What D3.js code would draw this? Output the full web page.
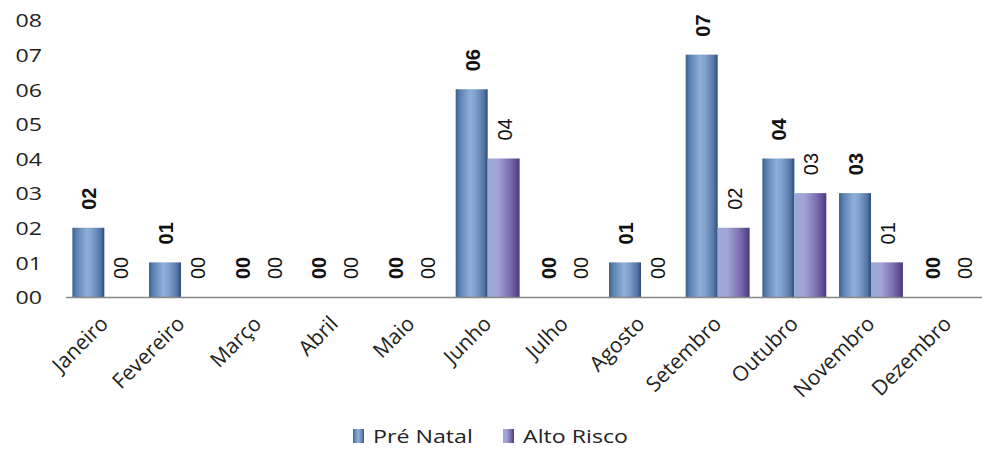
<!DOCTYPE html>
<html>
<head>
<meta charset="utf-8">
<script src="https://cdn.jsdelivr.net/npm/d3@7"></script>
<style>
  html, body { margin: 0; padding: 0; background: #fff; }
  svg { display: block; }
</style>
</head>
<body>
<svg id="chart" width="982" height="453"></svg>
<script>
const months = ["Janeiro","Fevereiro","Março","Abril","Maio","Junho","Julho","Agosto","Setembro","Outubro","Novembro","Dezembro"];
const seriesNames = ["Pré Natal","Alto Risco"];
const preNatal = [2,1,0,0,0,6,0,1,7,4,3,0];
const altoRisco = [0,0,0,0,0,4,0,0,2,3,1,0];
const yTicks = [0,1,2,3,4,5,6,7,8];

const svg = d3.select("#chart");
const W = 982, H = 453;
const SX = 1.22; // horizontal text stretch seen in the reference
const margin = {left: 66, right: -4, top: 20, bottom: 156};
const x0 = d3.scaleBand().domain(months).range([margin.left, W - margin.right]).paddingInner(0.166).paddingOuter(0.083);
const x1 = d3.scaleBand().domain(seriesNames).range([0, x0.bandwidth()]).padding(0);
const y = d3.scaleLinear().domain([0, 8]).range([H - margin.bottom, margin.top]);

const defs = svg.append("defs");
const g1 = defs.append("linearGradient").attr("id","gPre").attr("x1","0").attr("x2","1").attr("y1","0").attr("y2","0");
[[0,"#3b5e8e"],[0.12,"#5a7fb0"],[0.45,"#8fafd8"],[0.6,"#83a3cf"],[0.88,"#5576a6"],[1,"#2f4b74"]].forEach(([o,c])=>g1.append("stop").attr("offset",o).attr("stop-color",c));
const g2 = defs.append("linearGradient").attr("id","gAlto").attr("x1","0").attr("x2","1").attr("y1","0").attr("y2","0");
[[0,"#9aa8d6"],[0.3,"#a2a6d6"],[0.7,"#7a6daf"],[0.9,"#5b4a92"],[1,"#4a3a7c"]].forEach(([o,c])=>g2.append("stop").attr("offset",o).attr("stop-color",c));

const fills = {"Pré Natal":"url(#gPre)", "Alto Risco":"url(#gAlto)"};
const data = months.map((m,i)=>({month:m, vals:[{s:"Pré Natal", v:preNatal[i]},{s:"Alto Risco", v:altoRisco[i]}]}));

// y axis
const yAxis = d3.axisLeft(y).tickValues(yTicks).tickFormat(d=>d3.format("02d")(d)).tickSize(0).tickPadding(0);
const ya = svg.append("g").attr("transform",`translate(42,0)`).call(yAxis);
ya.select(".domain").remove();
ya.selectAll("text").attr("x",0).attr("font-family","'Open Sans', sans-serif").attr("font-size",19).attr("fill","#222").attr("dy","0.36em")
  .attr("transform",`scale(${SX},1)`);

// bars
const groups = svg.append("g").selectAll("g").data(data).join("g").attr("transform",d=>`translate(${x0(d.month)},0)`);
groups.selectAll("rect").data(d=>d.vals.filter(e=>e.v>0)).join("rect")
  .attr("x",d=>x1(d.s)).attr("width",x1.bandwidth())
  .attr("y",d=>y(d.v)).attr("height",d=>y(0)-y(d.v))
  .attr("fill",d=>fills[d.s]);

// value labels
groups.selectAll("text.val").data(d=>d.vals).join("text").attr("class","val")
  .attr("transform",d=>`translate(${x1(d.s)+x1.bandwidth()/2+8},${y(d.v)-18}) rotate(-90)`)
  .attr("text-anchor","start")
  .attr("font-family","'Liberation Sans', Arial, sans-serif")
  .attr("font-size",20)
  .attr("font-weight",d=>d.s==="Pré Natal"?"bold":"normal")
  .attr("fill","#111")
  .text(d=>d3.format("02d")(d.v));

// baseline
svg.append("line").attr("x1",margin.left).attr("x2",W).attr("y1",y(0)+0.5).attr("y2",y(0)+0.5).attr("stroke","#888").attr("stroke-width",1.5);

// x axis labels
const xa = svg.append("g").attr("transform",`translate(0,${y(0)})`);
xa.selectAll("text").data(months).join("text")
  .attr("transform",d=>`translate(${x0(d)+x0.bandwidth()/2+5},${28}) rotate(-45)`)
  .attr("text-anchor","end")
  .attr("font-family","'Open Sans', sans-serif")
  .attr("font-size",21)
  .attr("fill","#222")
  .text(d=>d);

// legend
const legend = svg.append("g").attr("transform","translate(353,443)");
const legX = [0, 150];
seriesNames.forEach((s,i)=>{
  const lg = legend.append("g").attr("transform",`translate(${legX[i]},0)`);
  lg.append("rect").attr("x",0).attr("y",-14).attr("width",11).attr("height",14).attr("fill",fills[s]);
  lg.append("text").attr("transform",`translate(20,0) scale(${SX},1)`).attr("font-family","'Open Sans', sans-serif").attr("font-size",19).attr("fill","#222").text(s);
});
</script>
</body>
</html>
